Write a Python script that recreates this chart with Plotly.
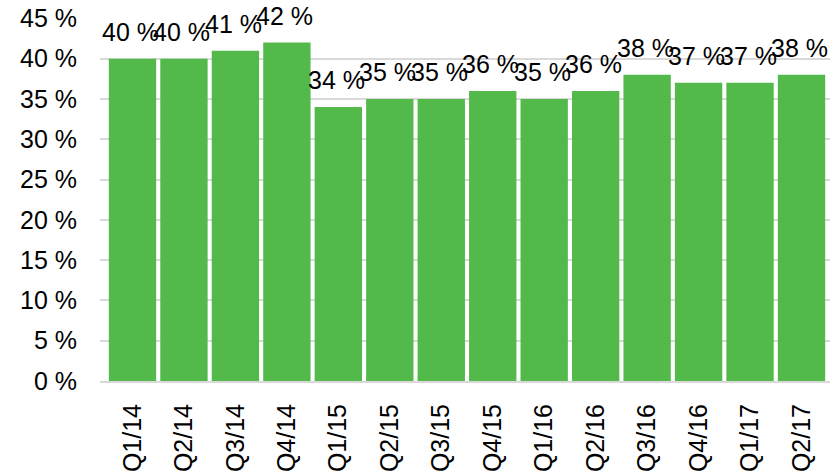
import plotly.graph_objects as go

categories = ["Q1/14", "Q2/14", "Q3/14", "Q4/14", "Q1/15", "Q2/15", "Q3/15",
              "Q4/15", "Q1/16", "Q2/16", "Q3/16", "Q4/16", "Q1/17", "Q2/17"]
values = [40, 40, 41, 42, 34, 35, 35, 36, 35, 36, 38, 37, 37, 38]
y_ticks = [0, 5, 10, 15, 20, 25, 30, 35, 40, 45]
y_tick_labels = [f"{v} %" for v in y_ticks]
value_labels = [f"{v} %" for v in values]

FONT = "Liberation Sans, Arial, sans-serif"

fig = go.Figure()
fig.add_trace(go.Bar(
    x=categories, y=values,
    marker=dict(color="rgb(82,185,74)", line=dict(width=0)),
    hoverinfo="skip",
))

for c, v, t in zip(categories, values, value_labels):
    fig.add_annotation(x=c, y=v, text=t, showarrow=False, xanchor="center",
                       yanchor="bottom", yshift=11, xshift=-2,
                       font=dict(family=FONT, size=25, color="black"))

fig.update_layout(
    width=837, height=472,
    margin=dict(l=100, r=7, t=18, b=91, autoexpand=False),
    paper_bgcolor="white", plot_bgcolor="white",
    showlegend=False,
    bargap=0.08,
    font=dict(family=FONT, size=25, color="black"),
)
fig.update_xaxes(
    type="category", tickangle=-90, showgrid=False, automargin=False,
    showline=True, linecolor="#d9d9d9", linewidth=2,
    ticks="", ticklabelstandoff=11,
    tickfont=dict(family=FONT, size=25, color="black"),
)
fig.update_yaxes(
    range=[0, 45.05], tickvals=y_ticks, ticktext=y_tick_labels, automargin=False,
    showgrid=True, gridcolor="#d9d9d9", gridwidth=1.5,
    zeroline=False, showline=False, ticks="", ticklabelstandoff=22,
    tickfont=dict(family=FONT, size=25, color="black"),
)

fig.write_html(
    "out.html",
    config={"displayModeBar": False},
    post_script="document.body.style.margin='0';document.body.style.overflow='hidden';",
)
